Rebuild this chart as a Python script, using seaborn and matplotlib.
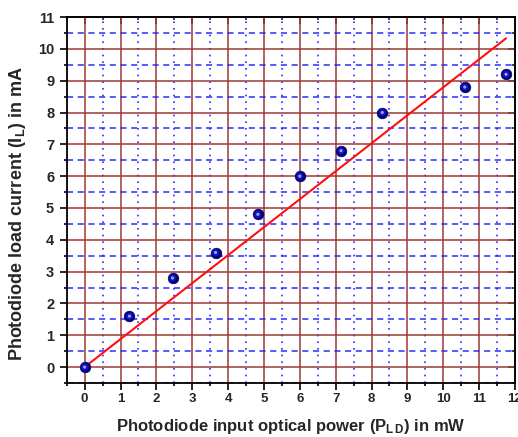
import matplotlib
matplotlib.use("Agg")
import matplotlib.pyplot as plt
import seaborn as sns
import numpy as np
import pandas as pd
from matplotlib.ticker import MultipleLocator

# Data
power_mw = [0.0, 1.25, 2.45, 3.65, 4.83, 6.0, 7.15, 8.3, 10.6, 11.75]
current_ma = [0.0, 1.6, 2.8, 3.6, 4.8, 6.0, 6.8, 8.0, 8.8, 9.2]
fit_x = [0.0, 11.75]
fit_y = [0.0, 10.33]
x_ticks = list(range(0, 13))
y_ticks = list(range(0, 12))

sns.set_theme(style="white")
plt.rcParams['font.family'] = ['Liberation Sans', 'DejaVu Sans']
plt.rcParams['font.weight'] = 'bold'
plt.rcParams['mathtext.fontset'] = 'custom'
plt.rcParams['mathtext.rm'] = 'Liberation Sans:bold'
plt.rcParams['mathtext.bf'] = 'Liberation Sans:bold'
plt.rcParams['mathtext.it'] = 'Liberation Sans:bold'
plt.rcParams['mathtext.default'] = 'bf'

df = pd.DataFrame({"P": power_mw, "I": current_ma})
fit = pd.DataFrame({"x": fit_x, "y": fit_y})

fig = plt.figure(figsize=(5.18, 4.37), dpi=100)
ax = fig.add_axes([0.1288, 0.1236, 0.9942 - 0.1288, 0.961 - 0.1236])

ax.set_xlim(-0.5, 12)
ax.set_ylim(-0.5, 11)
ax.xaxis.set_major_locator(MultipleLocator(1))
ax.xaxis.set_minor_locator(MultipleLocator(0.5))
ax.yaxis.set_major_locator(MultipleLocator(1))
ax.yaxis.set_minor_locator(MultipleLocator(0.5))

# grids
ax.set_axisbelow(True)
ax.grid(which='major', axis='both', color='#9E3838', linestyle='-', linewidth=1.1)
ax.grid(which='minor', axis='x', color='#2B2BFF', linestyle=(0, (1, 3)), linewidth=1.2)
ax.grid(which='minor', axis='y', color='#2B2BFF', linestyle=(0, (4, 3)), linewidth=1.1)

sns.lineplot(data=fit, x="x", y="y", ax=ax, color='#FF1010', linewidth=1.5, zorder=3)
# spherical markers: layered for shading
sns.scatterplot(data=df, x="P", y="I", ax=ax, s=60, color='#00007A', edgecolor='#000060',
                linewidth=0.4, zorder=4)
sns.scatterplot(data=df, x="P", y="I", ax=ax, s=28, color='#1414B4', edgecolor='none', zorder=5)
sns.scatterplot(data=df, x="P", y="I", ax=ax, s=5, color='#A0A0FF', edgecolor='none', zorder=6)

for sp in ax.spines.values():
    sp.set_color('black')
    sp.set_linewidth(1.3)

ax.set_xticks(x_ticks)
ax.set_yticks(y_ticks)
ax.set_xticklabels([str(t) for t in x_ticks])
ax.set_yticklabels([str(t) for t in y_ticks])

ax.tick_params(axis='both', which='both', bottom=True, left=True, top=False, right=False,
               direction='out', color='black', width=1.2)
ax.tick_params(axis='both', which='major', length=5)
ax.tick_params(axis='both', which='minor', length=2.5)
ax.tick_params(axis='x', which='major', labelsize=9.5, pad=2)
ax.tick_params(axis='y', which='major', labelsize=10.5, pad=4)

# inward ticks on top/right
ax2 = ax.secondary_xaxis('top')
ax2.xaxis.set_major_locator(MultipleLocator(1))
ax2.xaxis.set_minor_locator(MultipleLocator(0.5))
ax2.tick_params(which='both', direction='in', labeltop=False, width=1.2)
ax2.tick_params(which='major', length=5)
ax2.tick_params(which='minor', length=2.5)
ax3 = ax.secondary_yaxis('right')
ax3.yaxis.set_major_locator(MultipleLocator(1))
ax3.yaxis.set_minor_locator(MultipleLocator(0.5))
ax3.tick_params(which='both', direction='in', labelright=False, width=1.2)
ax3.tick_params(which='major', length=5)
ax3.tick_params(which='minor', length=2.5)

ax.set_xlabel(r"Photodiode input optical power (P$_{\mathbf{L\,D}}$) in mW",
              fontsize=12, fontweight='bold', labelpad=9)
ax.set_ylabel(r"Photodiode load current (I$_{\mathbf{L}}$) in mA",
              fontsize=13, fontweight='bold')
ax.yaxis.set_label_coords(-0.086, 0.464)

fig.savefig("out.png", dpi=100)
